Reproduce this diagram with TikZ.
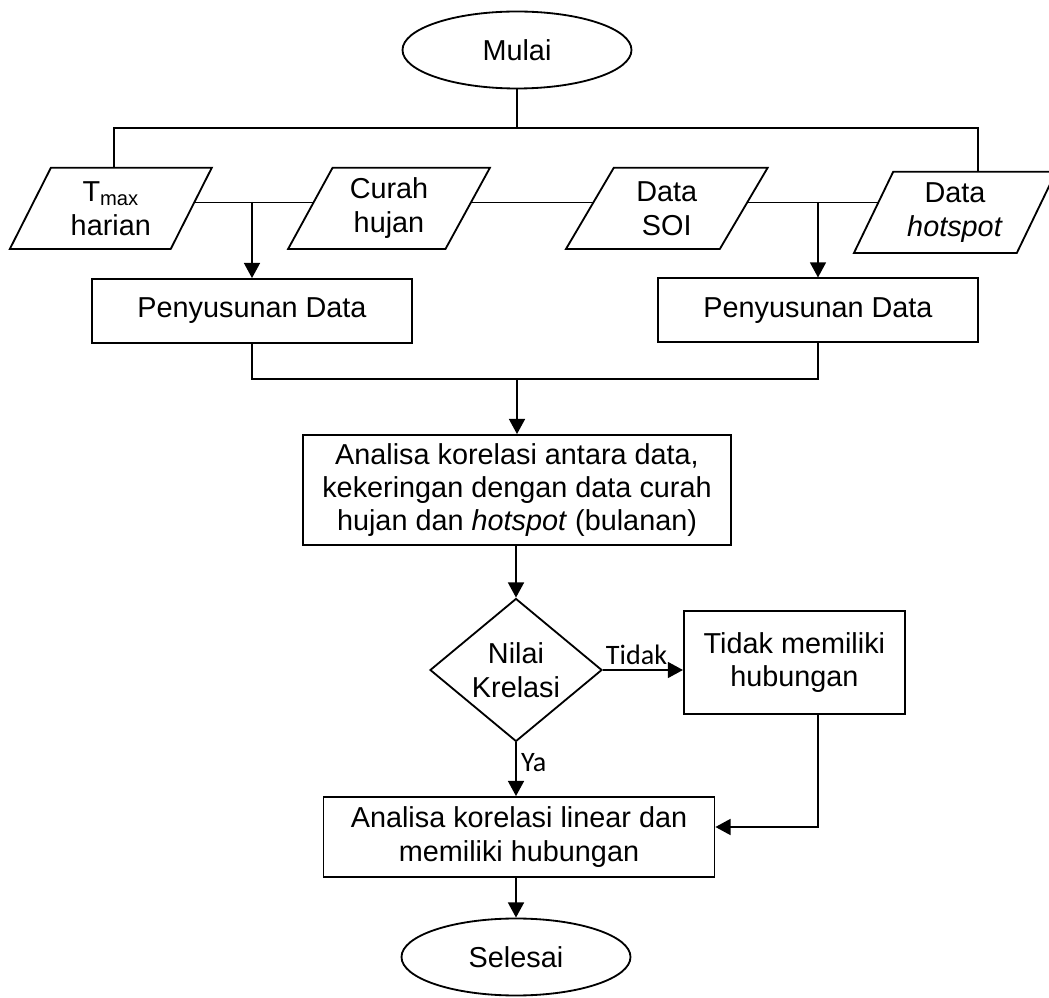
\documentclass[tikz,border=0pt]{standalone}
\usepackage{fontspec}
\setmainfont{Liberation Sans}
\newfontfamily\calibrifont{Carlito}
\usetikzlibrary{positioning, shapes.geometric, arrows.meta, backgrounds}

\begin{document}
\begin{tikzpicture}[
				>={Triangle[length=3.8mm, width=4mm]},
				line width=1.3pt,
				terminal/.style={ellipse, draw=black, fill=white, minimum width=5.725cm, minimum height=1.925cm, inner sep=0pt, font=\fontsize{20.5}{24}\selectfont},
				datain/.style={trapezium, trapezium left angle=63, trapezium right angle=117, trapezium stretches=true, draw=black, fill=white, minimum width=5.06cm, minimum height=2.03cm, inner sep=0pt, align=center, font=\fontsize{20.5}{24}\selectfont},
				proc/.style={rectangle, draw=black, fill=white, inner sep=0pt, align=center, font=\fontsize{20.5}{23.7}\selectfont},
				decide/.style={diamond, draw=black, fill=white, minimum width=4.3cm, minimum height=3.45cm, inner sep=0pt, align=center, font=\fontsize{20.5}{24}\selectfont},
				lbl/.style={font=\calibrifont\fontsize{20}{24}\selectfont, inner sep=3pt},
				arr/.style={->}
			]

			\useasboundingbox (0, 0) rectangle (26.225, -24.95);

			% Start and input data
			\node[terminal] (mulai) at (12.925, -1.25) {Mulai};
			\node[datain] (t_max) at (2.77, -5.21) {T\textsubscript{max}\\harian};
			\node[datain] (curah) at (9.725, -5.21) {Curah\\hujan};
			\node[datain] (soi) at (16.67, -5.21) {Data\\SOI};
			\node[datain] (hot) at (23.875, -5.31) {Data\\\textit{hotspot}};
			\coordinate (bar_l) at (2.85, -3.2);
			\coordinate (bar_r) at (24.45, -3.2);
			\coordinate (row) at (0, -5.05);
			\draw (mulai.south) -- (mulai.south |- bar_l);
			\draw (bar_l |- t_max.north) -- (bar_l) -- (bar_r) -- (bar_r |- hot.north);
			\begin{scope}[on background layer]
				\draw (t_max.center |- row) -- (curah.center |- row);
				\draw (curah.center |- row) -- (soi.center |- row);
				\draw (soi.center |- row) -- (hot.center |- row);
			\end{scope}

			% Data preparation
			\node[proc, minimum width=8cm, minimum height=1.6cm] (pen_a) at (6.3, -7.775) {Penyusunan Data};
			\node[proc, minimum width=8cm, minimum height=1.6cm] (pen_b) at (20.45, -7.76) {Penyusunan Data};
			\draw[arr] (pen_a.north |- row) -- (pen_a.north);
			\draw[arr] (pen_b.north |- row) -- (pen_b.north);

			% Correlation
			\node[proc, minimum width=10.7cm, minimum height=2.75cm] (analisa) at (12.925, -12.25)
			{Analisa korelasi antara data,\\kekeringan dengan data curah\\hujan dan \textit{hotspot} (bulanan)};
			\coordinate (merge) at (12.925, -9.475);
			\draw (pen_a.south) -- (pen_a.south |- merge) -- (pen_b.south |- merge) -- (pen_b.south);
			\draw[arr] (merge) -- (analisa.north);

			\node[decide] (nilai) at (12.9, -16.75) {Nilai\\Krelasi};
			\node[proc, minimum width=5.525cm, minimum height=2.575cm] (tidak) at (19.86, -16.56) {Tidak memiliki\\hubungan};
			\node[proc, minimum width=9.775cm, minimum height=2.0cm] (linear) at (12.975, -20.925)
			{Analisa korelasi linear dan\\memiliki hubungan};
			\node[terminal] (selesai) at (12.9, -23.925) {Selesai};
			\draw[arr] (nilai.north |- analisa.south) -- (nilai.north);
			\draw[arr] (nilai.east) -- node[lbl, above, pos=0.42] (tidak_lbl) {Tidak} (nilai.east -| tidak.west);
			\draw[arr] (nilai.south) -- node[lbl, right, pos=0.38] (ya_lbl) {Ya} (nilai.south |- linear.north);
			\coordinate (back) at (20.45, -20.675);
			\draw[arr] (back |- tidak.south) -- (back) -- (back -| linear.east);
			\draw[arr] (selesai.north |- linear.south) -- (selesai.north);

		\end{tikzpicture}
\end{document}
